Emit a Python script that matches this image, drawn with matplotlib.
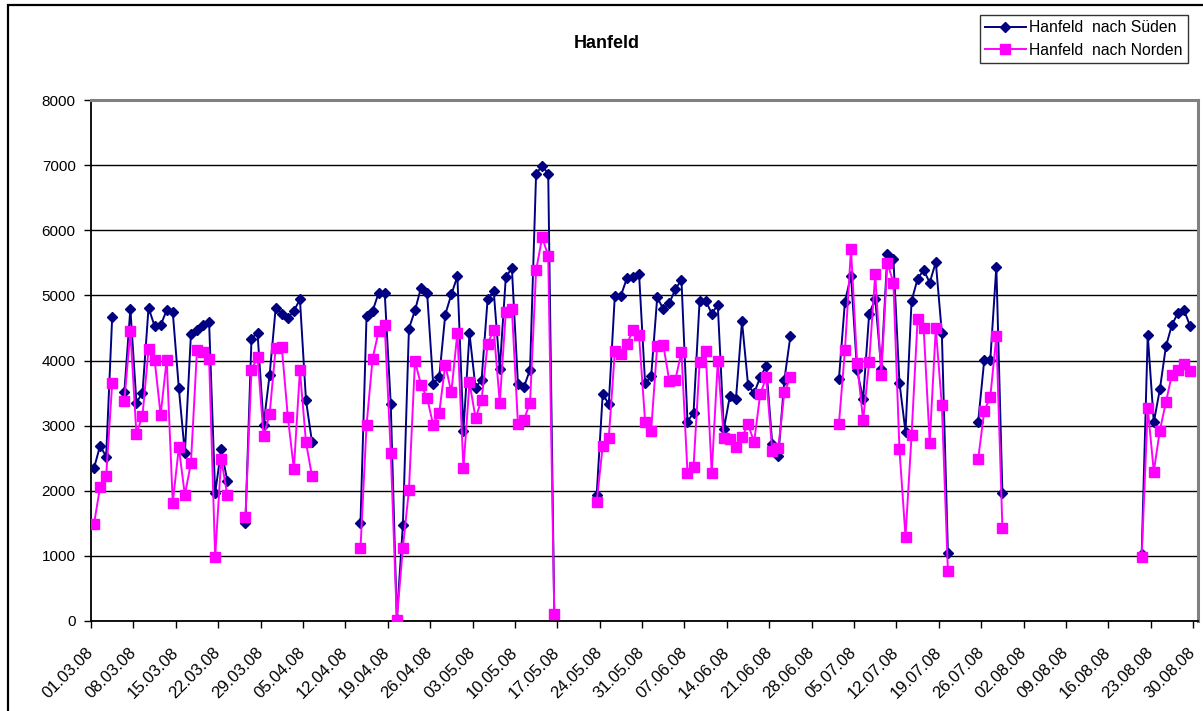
import numpy as np
import pandas as pd
import matplotlib
matplotlib.use("Agg")
import matplotlib.pyplot as plt
from matplotlib.patches import Rectangle

plt.rcParams['font.family'] = ['Liberation Sans', 'DejaVu Sans']

# -------------------------------------------------------------------------
# data: daily counts, measured in blocks (days without values are gaps)
# -------------------------------------------------------------------------
SERIES_SUED = "Hanfeld  nach Süden"
SERIES_NORD = "Hanfeld  nach Norden"
TITLE = "Hanfeld"

block_start = ["2008-03-01", "2008-03-06", "2008-03-26", "2008-04-14",
               "2008-05-23", "2008-07-02", "2008-07-25", "2008-08-21"]

sued = [
    [2350, 2690, 2525, 4670],
    [3510, 4795, 3355, 3500, 4810, 4530, 4540, 4775, 4745, 3580, 2575, 4400,
     4475, 4545, 4595, 1960, 2640, 2155],
    [1510, 4335, 4425, 3015, 3785, 4810, 4720, 4655, 4760, 4940, 3390, 2745],
    [1510, 4680, 4760, 5040, 5040, 3330, 30, 1475, 4490, 4770, 5120, 5040,
     3645, 3740, 4705, 5015, 5290, 2925, 4415, 3580, 3705, 4950, 5065, 3870,
     5280, 5420, 3645, 3595, 3860, 6870, 6985, 6870, 100],
    [1935, 3485, 3330, 4995, 4995, 5265, 5275, 5335, 3650, 3755, 4970, 4790,
     4880, 5095, 5240, 3060, 3200, 4920, 4920, 4720, 4855, 2945, 3455, 3405,
     4600, 3625, 3495, 3745, 3910, 2715, 2535, 3705, 4380],
    [3710, 4905, 5305, 3850, 3405, 4720, 4940, 3875, 5630, 5565, 3660, 2905,
     4915, 5255, 5390, 5195, 5510, 4425, 1050],
    [3060, 4005, 4005, 5440, 1970],
    [1030, 4395, 3050, 3555, 4215, 4550, 4730, 4770, 4530],
]

nord = [
    [1490, 2060, 2220, 3650],
    [3375, 4450, 2870, 3155, 4170, 4015, 3165, 4015, 1815, 2665, 1935, 2425,
     4155, 4125, 4030, 985, 2490, 1935],
    [1590, 3850, 4055, 2835, 3180, 4195, 4210, 3140, 2335, 3850, 2745, 2220],
    [1115, 3005, 4030, 4450, 4540, 2585, 20, 1125, 2010, 3990, 3625, 3425,
     3015, 3195, 3935, 3510, 4425, 2345, 3665, 3115, 3400, 4255, 4475, 3355,
     4745, 4795, 3030, 3090, 3355, 5385, 5890, 5610, 110],
    [1820, 2690, 2805, 4140, 4105, 4250, 4470, 4385, 3060, 2925, 4230, 4240,
     3685, 3705, 4130, 2275, 2370, 3970, 4140, 2275, 3985, 2815, 2790, 2675,
     2820, 3025, 2745, 3480, 3740, 2610, 2660, 3515, 3740],
    [3020, 4160, 5715, 3965, 3085, 3975, 5330, 3770, 5500, 5195, 2635, 1295,
     2850, 4640, 4495, 2740, 4495, 3315, 770],
    [2485, 3225, 3440, 4375, 1435],
    [990, 3270, 2295, 2925, 3360, 3785, 3860, 3950, 3835],
]

FIRST_DAY = "2008-03-01"
LAST_DAY = "2008-08-30"


def to_daily(blocks):
    days = pd.date_range(FIRST_DAY, LAST_DAY, freq="D")
    s = pd.Series(np.nan, index=days)
    for start, vals in zip(block_start, blocks):
        idx = pd.date_range(start, periods=len(vals), freq="D")
        s.loc[idx] = vals
    return s


s_sued = to_daily(sued)
s_nord = to_daily(nord)
days = s_sued.index
x = np.arange(len(days)) + 0.5   # points sit between the day ticks

# -------------------------------------------------------------------------
# figure
# -------------------------------------------------------------------------
W, H = 1203, 711
fig = plt.figure(figsize=(W / 100, H / 100), dpi=100)
ax = fig.add_axes([91 / W, 1 - 621 / H, (1198 - 91) / W, (621 - 100) / H])

ax.plot(x, s_sued.values, color="#000080", lw=1.4, marker="D", ms=4.8,
        label=SERIES_SUED, zorder=3)
ax.plot(x, s_nord.values, color="#FF00FF", lw=1.4, marker="s", ms=7,
        label=SERIES_NORD, zorder=4)

ax.set_xlim(0, 182.8)
ax.set_ylim(0, 8000)
ax.set_yticks(np.arange(0, 8001, 1000))

tick_pos = np.arange(0, len(days) + 1, 7)
tick_lab = [pd.Timestamp(FIRST_DAY) + pd.Timedelta(days=int(d)) for d in tick_pos]
ax.set_xticks(tick_pos)
ax.set_xticklabels([t.strftime("%d.%m.%y") for t in tick_lab], rotation=45,
                   ha="right", va="center", rotation_mode="anchor",
                   fontsize=12)

ax.tick_params(axis="both", direction="out", length=5, width=1,
               color="black")
ax.tick_params(axis="y", labelsize=11, pad=6)
ax.tick_params(axis="x", pad=16)

ax.yaxis.grid(True, color="black", lw=1)
ax.set_axisbelow(True)
for side in ["left", "bottom"]:
    ax.spines[side].set_color("black")
    ax.spines[side].set_linewidth(1.3)
for side in ["top", "right"]:
    ax.spines[side].set_color("#808080")
    ax.spines[side].set_linewidth(2.2)

fig.text(607 / W, 1 - 43 / H, TITLE, ha="center", va="center",
         fontsize=13, fontweight="bold")

leg = fig.legend(loc="upper right", bbox_to_anchor=(1188 / W, 1 - 15 / H),
                 fontsize=11.3, frameon=True, fancybox=False, borderpad=0.35,
                 labelspacing=0.45, handlelength=2.6, handletextpad=0.2,
                 borderaxespad=0)
leg.get_frame().set_edgecolor("black")
leg.get_frame().set_linewidth(1)

# outer chart frame (cut off at right/bottom like the original)
fig.add_artist(Rectangle((8 / W, -0.5), 2, 0.5 + 1 - 5 / H,
                         transform=fig.transFigure, fill=False,
                         ec="black", lw=1.6))

fig.savefig("out.png", dpi=100)
